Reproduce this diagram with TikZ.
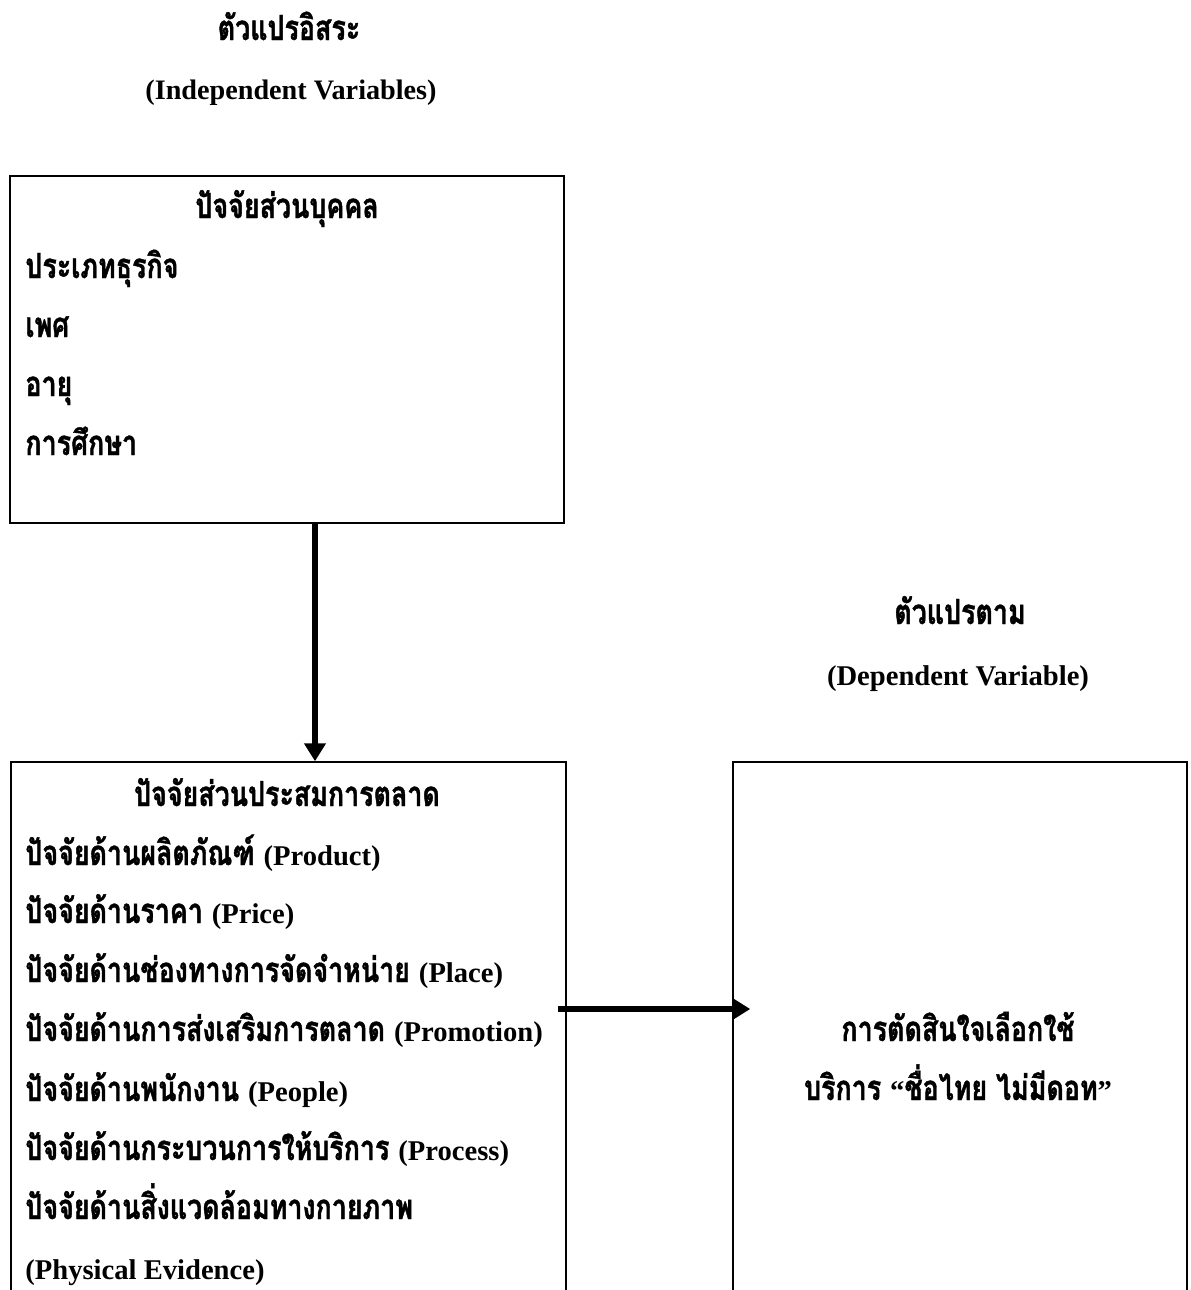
\documentclass[tikz,border=0pt]{standalone}
\usepackage{fontspec}
\setmainfont{Liberation Serif}
\newfontfamily\thaif{Loma}[Script=Thai, FakeStretch=0.775, FakeBold=1.2]
\usetikzlibrary{arrows.meta,fit}
\newcommand{\latf}{\rmfamily\bfseries\fontsize{14.3}{16}\selectfont}
\newcommand{\thf}{\thaif\bfseries\fontsize{17.3}{20}\selectfont}
\begin{document}
\begin{tikzpicture}[x=0.5pt,y=-0.5pt,
  box/.style={draw, line width=0.75pt, inner sep=0pt, fit=#1},
  txt/.style={inner sep=0pt, anchor=base west},
  ctxt/.style={inner sep=0pt, anchor=base},
  bigarrow/.style={line width=3.2pt, -{Triangle[length=9pt,width=10.5pt]}}]
\useasboundingbox (0,0) rectangle (1190,1290);
\clip (0,0) rectangle (1190,1290);

% titles
\node[ctxt] (t1) at (289,40) {\thf ตัวแปรอิสระ};
\node[ctxt] (t1e) at (291,99) {\latf\fontsize{14.1}{16}\selectfont (Independent Variables)};
\node[ctxt] (t2) at (960,624) {\thf ตัวแปรตาม};
\node[ctxt] (t2e) at (958,685) {\latf (Dependent Variable)};

% boxes
\coordinate (b1a) at (10,176); \coordinate (b1b) at (564,523);
\node[box={(b1a)(b1b)}] (box1) {};
\coordinate (b2a) at (11,762); \coordinate (b2b) at (566,1340);
\node[box={(b2a)(b2b)}] (box2) {};
\coordinate (b3a) at (733,762); \coordinate (b3b) at (1187,1340);
\node[box={(b3a)(b3b)}] (box3) {};

% box1 text
\node[ctxt] (b1t) at (287,218) {\thf ปัจจัยส่วนบุคคล};
\node[txt] (b1l1) at (25,278) {\thf ประเภทธุรกิจ};
\node[txt] (b1l2) at (25,337) {\thf เพศ};
\node[txt] (b1l3) at (25,396) {\thf อายุ};
\node[txt] (b1l4) at (25,455) {\thf การศึกษา};

% box2 text
\node[ctxt] (b2t) at (287,806) {\thf ปัจจัยส่วนประสมการตลาด};
\node[txt] (b2l1) at (25,865) {\thf ปัจจัยด้านผลิตภัณฑ์ \latf(Product)};
\node[txt] (b2l2) at (25,923) {\thf ปัจจัยด้านราคา \latf(Price)};
\node[txt] (b2l3) at (25,982) {\thf ปัจจัยด้านช่องทางการจัดจำหน่าย \latf(Place)};
\node[txt] (b2l4) at (25,1041) {\thf ปัจจัยด้านการส่งเสริมการตลาด \latf(Promotion)};
\node[txt] (b2l5) at (25,1101) {\thf ปัจจัยด้านพนักงาน \latf(People)};
\node[txt] (b2l6) at (25,1160) {\thf ปัจจัยด้านกระบวนการให้บริการ \latf(Process)};
\node[txt] (b2l7) at (25,1219) {\thf ปัจจัยด้านสิ่งแวดล้อมทางกายภาพ};
\node[txt] (b2l8) at (25,1279) {\latf(Physical Evidence)};

% box3 text
\node[ctxt] (b3l1) at (958,1041) {\thf การตัดสินใจเลือกใช้};
\node[ctxt] (b3l2) at (958,1100) {\thf บริการ \latf“\thf ชื่อไทย ไม่มีดอท\latf”};

% arrows
\coordinate (ax) at (315,0);
\coordinate (ay) at (0,1009);
\draw[bigarrow] (box1.south -| ax) -- (box2.north -| ax);
\draw[bigarrow] ([xshift=-4.5pt]box2.east |- ay) -- ([xshift=9pt]box3.west |- ay);
\end{tikzpicture}
\end{document}
